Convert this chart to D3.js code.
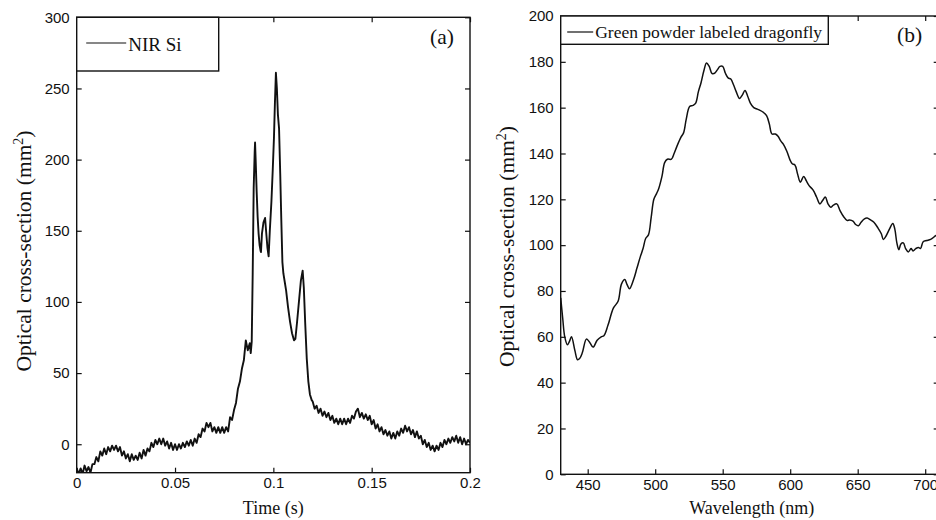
<!DOCTYPE html>
<html><head><meta charset="utf-8">
<script src="https://cdn.jsdelivr.net/npm/d3@7/dist/d3.min.js"></script>
<style>body{margin:0;background:#fff}svg{display:block}</style>
</head><body><svg id="c" width="936" height="520"></svg>
<script>
// ---------- Panel (a) : NIR Si, time series ----------
const timeTicksA = [0, 0.05, 0.1, 0.15, 0.2];
const timeTickLabelsA = ["0", "0.05", "0.1", "0.15", "0.2"];
const valueTicksA = [0, 50, 100, 150, 200, 250, 300];
const legendA = "NIR Si";
// baseline part 0 .. 0.088 s (1 ms steps)
const nirEarly = [-17,-21,-17,-21,-15,-19,-16,-20,-14,-14,-9,-12,-5,-8,-3,-7,-2,-5,-1,-4,
  -1,-5,-2,-8,-5,-10,-7,-12,-7,-11,-8,-11,-6,-10,-4,-8,-3,-5,1,-2,
  3,0,4,0,4,-1,2,-3,1,-4,0,-4,0,-3,1,-2,2,-1,3,-1,
  4,1,7,5,11,9,15,12,15,9,12,8,12,8,12,8,12,9,19,17,
  24,29,39,44,53,59,73,66,71];
// main peaks region [t, value]
const nirPeaks = [[0.0885,64],[0.089,72],[0.0895,120],[0.09,180],[0.0905,205],[0.0907,212],
  [0.091,200],[0.0915,178],[0.092,160],[0.0925,148],[0.093,140],[0.0935,136],[0.0937,135],
  [0.0942,148],[0.095,156],[0.0958,159],[0.0963,150],[0.097,138],[0.0976,132],[0.0982,150],
  [0.099,170],[0.0997,193],[0.1003,215],[0.1008,240],[0.1013,261],[0.1018,250],[0.1023,232],
  [0.1029,222],[0.1035,190],[0.104,160],[0.1046,128],[0.1051,120],[0.1058,114],[0.1065,108],
  [0.1075,96],[0.1085,86],[0.1095,78],[0.1105,73],[0.1112,74],[0.112,85],[0.113,100],
  [0.114,115],[0.1149,122],[0.1155,110],[0.1162,85],[0.117,60],[0.1178,44],[0.1186,35],[0.1195,31]];
// tail part 0.120 .. 0.200 s (1 ms steps)
const nirLate = [30,25,27,22,25,20,23,19,22,17,20,15,18,14,18,14,18,14,18,15,
  20,18,23,25,19,22,18,21,17,20,14,17,11,14,9,12,7,10,6,9,
  4,8,4,9,6,11,8,13,9,12,7,10,5,9,4,6,0,3,-2,1,
  -4,-1,-5,-1,-4,1,-2,3,0,4,1,5,2,6,1,5,0,4,0,3,1];

// ---------- Panel (b) : Green powder labeled dragonfly, spectrum ----------
const waveTicksB = [450, 500, 550, 600, 650, 700];
const valueTicksB = [0, 20, 40, 60, 80, 100, 120, 140, 160, 180, 200];
const legendB = "Green powder labeled dragonfly";
const wavelengthB = [430,431.5,433,435,436.5,438,440.5,442.5,444,446,449,451,454,457,460,462,465,469,472.5,475,
  477.5,479,481,484,486.5,489,491,493,495,497,499,501,502.5,505,507,509,512,514,516,519,
  521,523,525.5,528,530,532,534,536,538,540,542,544,546,548,550,552,554,556,558,560,
  562.5,564.5,566.5,568.5,570.5,573,575,577,580,582.5,584.5,586.5,589,591,593,595,597.5,600,601.5,603.5,
  605.5,607.5,610,612,614,617,619.5,622,624,626,628,630,632,634.5,637,639.5,642,644,646.5,648.5,
  650.5,652.5,655,657,659.5,662,665,667.5,669,671,673.5,676,677.5,679,680.5,682,683.8,685.5,687.5,689.5,
  691,693,695,696.5,698.5,701,704,707.5,710];
const crossB = [77,68,60,56.5,58,60,54,50,50.5,53,59,58,55.5,58.5,60,60.5,65,72.5,75.5,83,
  85,83,81,85,90,95,98.5,103,104.5,112,120,122.5,124.5,130,136,137.5,137.5,140,143,147,
  149,155,160.5,161,162,167,171,176,179.5,178,175,175,176.5,178,178,175,173,172.5,170,167,
  164,165.5,167.5,165,162,160,159.5,159,158,156.5,153,148.5,148.5,147.5,145.5,144,141,137,135.5,135,
  131,127.5,130,128,126,124,121,118,119.5,121,118,116.5,117.5,118,115,112.5,110.8,111,110.5,109,
  108.5,110,111.5,111.8,111,110,107.5,105,102.5,104,107,109.5,107,101,98,100.5,101,98.5,97,98.5,
  97.5,98.5,99,98.5,101.5,102,102.5,104,105];

// ---------- drawing ----------
const svg = d3.select("#c");
svg.append("rect").attr("width",936).attr("height",520).attr("fill","#fff");
const SANS = "'Liberation Sans', Arial, sans-serif";
const SERIF = "'Liberation Serif', 'Times New Roman', serif";

function panel(o){
  const g = svg.append("g");
  const x = d3.scaleLinear().domain(o.xd).range([o.l, o.r]);
  const y = d3.scaleLinear().domain(o.yd).range([o.b, o.t]);
  const cid = "clip"+o.id;
  svg.append("clipPath").attr("id",cid).append("rect")
    .attr("x",o.l).attr("y",o.t).attr("width",o.r-o.l).attr("height",o.b-o.t);
  const line = d3.line().x(d=>x(d[0])).y(d=>y(d[1])).curve(o.curve);
  g.append("path").datum(o.data).attr("d",line).attr("fill","none")
    .attr("stroke","#111").attr("stroke-width",o.sw).attr("stroke-linejoin","round")
    .attr("clip-path",`url(#${cid})`);
  const style = s => { s.select(".domain").remove();
    s.selectAll("line").attr("stroke","#111").attr("stroke-width",1.2);
    s.selectAll("text").attr("font-family",SANS).attr("font-size",15).attr("fill","#111"); };
  g.append("g").attr("transform",`translate(0,${o.b})`)
    .call(d3.axisBottom(x).tickValues(o.xt).tickFormat((d,i)=>o.xl[i]).tickSizeInner(-5).tickSizeOuter(0).tickPadding(5)).call(style);
  g.append("g").attr("transform",`translate(0,${o.t})`)
    .call(d3.axisTop(x).tickValues(o.xt).tickFormat("").tickSizeInner(-5).tickSizeOuter(0)).call(style);
  g.append("g").attr("transform",`translate(${o.l},0)`)
    .call(d3.axisLeft(y).tickValues(o.yt).tickFormat(d3.format("d")).tickSizeInner(-5).tickSizeOuter(0).tickPadding(7)).call(style);
  g.append("g").attr("transform",`translate(${o.r},0)`)
    .call(d3.axisRight(y).tickValues(o.yt).tickFormat("").tickSizeInner(-5).tickSizeOuter(0)).call(style);
  g.append("rect").attr("x",o.l).attr("y",o.t).attr("width",o.r-o.l).attr("height",o.b-o.t)
    .attr("fill","none").attr("stroke","#111").attr("stroke-width",1.4);
  // legend
  g.append("rect").attr("x",o.l).attr("y",o.t).attr("width",o.lw).attr("height",o.lh)
    .attr("fill","#fff").attr("stroke","#111").attr("stroke-width",1.4);
  g.append("line").attr("x1",o.l+o.lx1).attr("x2",o.l+o.lx2).attr("y1",o.t+o.ly).attr("y2",o.t+o.ly)
    .attr("stroke","#111").attr("stroke-width",1.2);
  g.append("text").attr("x",o.l+o.lx2+2).attr("y",o.t+o.ty).text(o.legend)
    .attr("font-family",SERIF).attr("font-size",o.lfs).attr("fill","#111");
  g.append("text").attr("x",o.tagx).attr("y",o.tagy).text(o.tag)
    .attr("font-family",SERIF).attr("font-size",21.5).attr("fill","#111");
  // axis titles
  g.append("text").attr("x",o.xtx).attr("y",514).attr("text-anchor","middle").text(o.xtitle)
    .attr("font-family",SERIF).attr("font-size",18).attr("fill","#111");
  const yt = g.append("text").attr("transform",`translate(${o.ytx},${o.yty}) rotate(-90)`)
    .attr("text-anchor","middle").attr("font-family",SERIF).attr("font-size",21.5).attr("fill","#111");
  yt.append("tspan").text("Optical cross-section (mm");
  yt.append("tspan").text("2").attr("font-size",14).attr("dy",-8);
  yt.append("tspan").text(")").attr("dy",8);
}

const dataA = nirEarly.map((v,i)=>[i*0.001, v])
  .concat(nirPeaks)
  .concat(nirLate.map((v,i)=>[0.12+i*0.001, v]));
panel({id:"a", xd:[0,0.2], yd:[-20,300], l:76.7, r:470, t:17.3, b:472.7,
  xt:timeTicksA, xl:timeTickLabelsA, yt:valueTicksA, data:dataA, curve:d3.curveLinear, sw:1.9,
  lw:142, lh:53.7, lx1:9.5, lx2:49.5, ly:25.7, ty:34, lfs:19, legend:legendA,
  tag:"(a)", tagx:430, tagy:44, xtitle:"Time (s)", xtx:273.3, ytx:31, yty:251});

const dataB = wavelengthB.map((w,i)=>[w, crossB[i]]);
panel({id:"b", xd:[430,710], yd:[0,200], l:560.7, r:938.7, t:16, b:474.3,
  xt:waveTicksB, xl:waveTicksB.map(String), yt:valueTicksB, data:dataB, curve:d3.curveCatmullRom, sw:1.5,
  lw:267.6, lh:28.3, lx1:6.5, lx2:32.5, ly:16, ty:21.5, lfs:17.5, legend:legendB,
  tag:"(b)", tagx:897, tagy:42, xtitle:"Wavelength (nm)", xtx:751.7, ytx:514, yty:246.5});
</script></body></html>
